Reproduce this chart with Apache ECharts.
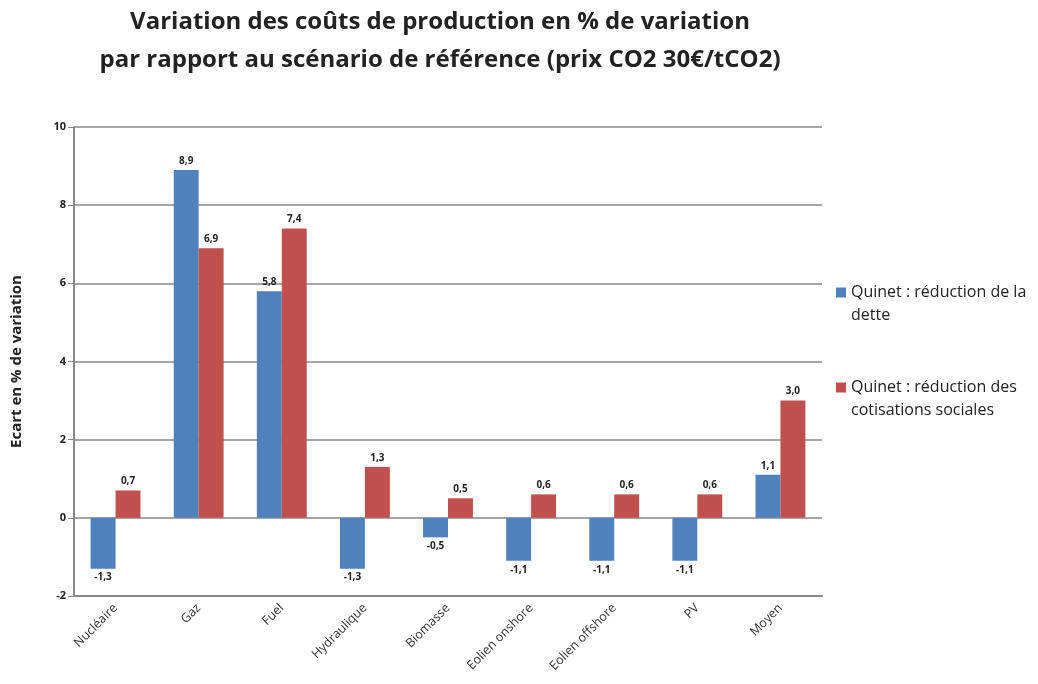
<!DOCTYPE html>
<html>
<head>
<meta charset="utf-8">
<script src="https://cdn.jsdelivr.net/npm/echarts@6/dist/echarts.min.js"></script>
<style>
  html, body { margin: 0; padding: 0; background: #fff; }
  #chart { width: 1038px; height: 684px; }
</style>
</head>
<body>
<div id="chart"></div>
<script>
const categories = ['Nucléaire', 'Gaz', 'Fuel', 'Hydraulique', 'Biomasse', 'Eolien onshore', 'Eolien offshore', 'PV', 'Moyen']
const detteValues = [-1.3, 8.9, 5.8, -1.3, -0.5, -1.1, -1.1, -1.1, 1.1]
const cotisationsValues = [0.7, 6.9, 7.4, 1.3, 0.5, 0.6, 0.6, 0.6, 3.0]
const seriesNames = ['Quinet : réduction de la dette', 'Quinet : réduction des cotisations sociales']
const yTicks = [-2, 0, 2, 4, 6, 8, 10]

const FONT = '"Open Sans", "Liberation Sans", sans-serif'

// étiquettes au-dessus pour les valeurs positives, en dessous pour les négatives
function toBarData(values) {
  return values.map((v) => ({
    value: v,
    label: { position: v < 0 ? 'bottom' : 'top' },
  }))
}

const labelStyle = {
  show: true,
  fontFamily: FONT,
  fontSize: 10,
  fontWeight: 'bold',
  color: '#222',
  distance: 4,
  formatter: (p) => p.value.toFixed(1).replace('.', ','),
}

// ligne vide en tête : le carré de légende s'aligne ainsi sur la 1re ligne du texte
const legendText = {
  [seriesNames[0]]: '\nQuinet : réduction de la\ndette',
  [seriesNames[1]]: '\nQuinet : réduction des\ncotisations sociales',
}

const chart = echarts.init(document.getElementById('chart'))
chart.setOption({
  animation: false,
  textStyle: { fontFamily: FONT },
  title: {
    text: 'Variation des coûts de production en % de variation\npar rapport au scénario de référence (prix CO2 30€/tCO2)',
    left: 440,
    textAlign: 'center',
    top: 3,
    padding: 0,
    textStyle: {
      fontFamily: FONT,
      fontSize: 24,
      fontWeight: 'bold',
      color: '#222',
      lineHeight: 38,
    },
  },
  legend: {
    orient: 'vertical',
    left: 836,
    top: 258,
    padding: 0,
    itemWidth: 10,
    itemHeight: 10,
    itemGap: 26,
    icon: 'rect',
    data: seriesNames,
    formatter: (name) => legendText[name],
    textStyle: { fontFamily: FONT, fontSize: 16, color: '#222', lineHeight: 23 },
  },
  grid: { left: 74, right: 216, top: 127, bottom: 88 },
  xAxis: {
    type: 'category',
    data: categories,
    axisLine: { onZero: false, lineStyle: { color: '#888', width: 2 } },
    axisTick: { show: false },
    axisLabel: {
      rotate: 45,
      fontFamily: FONT,
      fontSize: 12.5,
      color: '#333',
      margin: 10,
      interval: 0,
    },
  },
  yAxis: {
    type: 'value',
    min: -2,
    max: 10,
    interval: 2,
    name: 'Ecart en % de variation',
    nameLocation: 'middle',
    nameGap: 50,
    nameTextStyle: { fontFamily: FONT, fontSize: 15, fontWeight: 'bold', color: '#222' },
    axisLine: { show: true, lineStyle: { color: '#888', width: 2 } },
    axisTick: { show: true, length: 6, lineStyle: { color: '#888' } },
    axisLabel: {
      fontFamily: FONT,
      fontSize: 11,
      fontWeight: 'bold',
      color: '#222',
      margin: 8,
      formatter: (v) => (yTicks.includes(v) ? String(v) : ''),
    },
    splitLine: { show: true, lineStyle: { color: '#888', width: 1.5 } },
  },
  series: [
    {
      name: seriesNames[0],
      type: 'bar',
      data: toBarData(detteValues),
      barGap: '0%',
      barCategoryGap: '40%',
      itemStyle: { color: '#4F81BD' },
      label: labelStyle,
    },
    {
      name: seriesNames[1],
      type: 'bar',
      data: toBarData(cotisationsValues),
      barGap: '0%',
      barCategoryGap: '40%',
      itemStyle: { color: '#C0504D' },
      label: labelStyle,
    },
  ],
})
</script>
</body>
</html>
